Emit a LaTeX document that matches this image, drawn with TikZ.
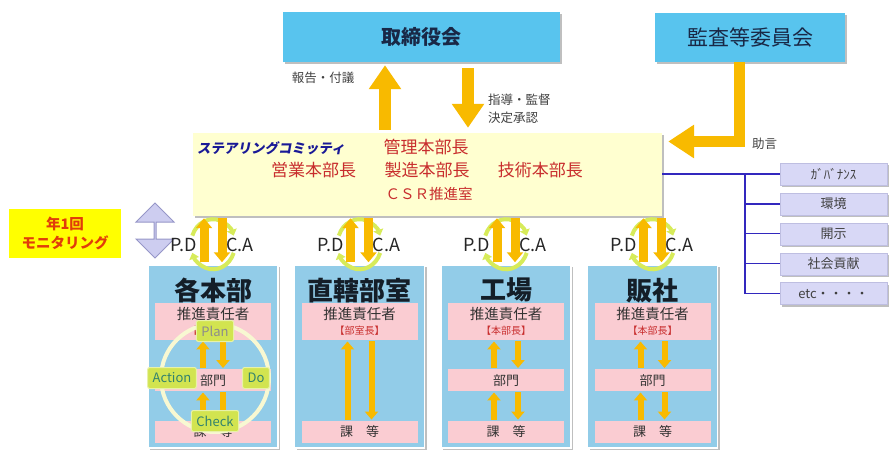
\documentclass[tikz,border=0pt]{standalone}
\usepackage{fontspec}
\setmainfont{Noto Sans CJK JP}
\newfontfamily\steerfont{Noto Sans CJK JP}[FakeSlant=0.18]
\usetikzlibrary{positioning,calc,arrows.meta,shadows,shapes.arrows}
\definecolor{boardblue}{RGB}{88,196,238}
\definecolor{navytext}{RGB}{25,40,70}
\definecolor{steeryellow}{RGB}{255,255,208}
\definecolor{steerblue}{RGB}{25,25,150}
\definecolor{memberred}{RGB}{200,45,45}
\definecolor{arroworange}{RGB}{248,186,0}
\definecolor{unitblue}{RGB}{146,204,232}
\definecolor{titleblack}{RGB}{20,30,40}
\definecolor{pinkbar}{RGB}{250,204,210}
\definecolor{lavbox}{RGB}{216,216,246}
\definecolor{lavborder}{RGB}{190,190,225}
\definecolor{lavarrow}{RGB}{205,205,240}
\definecolor{lavedge}{RGB}{150,150,200}
\definecolor{lineblue}{RGB}{50,40,190}
\definecolor{monitoryellow}{RGB}{255,255,0}
\definecolor{monitortext}{RGB}{225,60,10}
\definecolor{ringlime}{RGB}{215,235,90}
\definecolor{ringcream}{RGB}{248,248,210}
\definecolor{cyclegreen}{RGB}{210,228,80}
\definecolor{cycletext}{RGB}{50,130,110}
\newcommand*{\fsz}[1]{\fontsize{#1}{\fpeval{1.25*(#1)}}\selectfont}
\newcommand*{\bossline}[1]{{\color{memberred}\fsz{10}【#1】}}
\tikzset{%
  boxshadow/.style={drop shadow={shadow xshift=2pt, shadow yshift=-2pt, fill=black, opacity=.25}},
  topbox/.style={rectangle, inner sep=0pt, fill=boardblue, text=navytext, boxshadow},% board and audit committee
  steerbox/.style={rectangle, inner sep=0pt, fill=steeryellow, minimum width=469pt, minimum height=83pt, boxshadow},
  steertitle/.style={inner sep=0pt, text=steerblue, font=\steerfont\bfseries\fsz{13.5}},
  member/.style={inner sep=0pt, text=memberred, font=\fsz{17}},% members of the committee
  remark/.style={inner sep=0pt, text=black!75, font=\fsz{12.5}},% text beside the big arrows
  bigarrow/.style={draw=arroworange, line width=12pt, -{Triangle[length=24pt,width=31pt]}, shorten <=3pt, shorten >=3pt},
  unit/.style={rectangle, inner sep=0pt, fill=unitblue, draw=white, line width=1.5pt, minimum width=130pt, minimum height=183pt, boxshadow},
  unittitle/.style={inner sep=0pt, text=titleblack, font=\bfseries\fsz{26}},
  headbar/.style={rectangle, inner sep=0pt, fill=pinkbar, minimum width=116pt, minimum height=37pt, align=center, font=\fsz{14.5}, text=black!80},
  bar/.style={rectangle, inner sep=0pt, fill=pinkbar, minimum width=116pt, minimum height=22pt, font=\fsz{13}, text=black!80},
  smallarrow/.style={draw=arroworange, line width=6pt, -{Triangle[length=8pt,width=13pt]}, shorten <=1pt, shorten >=1pt},
  ringarc/.style={draw=ringlime, line width=4pt, -{Triangle[length=6pt,width=10pt]}},% pdca ring
  midarrow/.style={draw=arroworange, line width=9pt, -{Triangle[length=10pt,width=16pt]}, shorten <=2pt, shorten >=2pt},
  pdlabel/.style={inner sep=0pt, font=\fsz{18}, text=black!85},
  cyclering/.style={circle, draw=ringcream, line width=4pt, minimum size=108pt, inner sep=0pt},
  cyclebox/.style={rectangle, rounded corners=2pt, fill=cyclegreen, draw=cyclegreen!50!white, line width=1pt, minimum height=21pt, inner xsep=5pt, inner ysep=0pt, font=\fsz{13}, text=cycletext},
  sidebox/.style={rectangle, inner sep=0pt, fill=lavbox, draw=lavborder, minimum width=107pt, minimum height=22pt, font=\fsz{13}, text=black!75, boxshadow},
  orgline/.style={draw=lineblue, line width=1.2pt},
  monitor/.style={rectangle, inner sep=0pt, fill=monitoryellow, minimum width=112pt, minimum height=49pt, align=center, text=monitortext, font=\bfseries\fsz{14.5}},
  dblarrow/.style={shape=double arrow, rotate=90, inner sep=0pt, minimum height=55pt, minimum width=38pt, double arrow head extend=9pt, fill=lavarrow, draw=lavedge, line width=1pt}
}
\newcommand*{\pdcaring}[1]{%
  \draw[ringarc] ([xshift=-20.7pt,yshift=28.6pt]#1.north) arc[start angle=160, end angle=20, x radius=22pt, y radius=25pt];
  \draw[ringarc] ([xshift=20.7pt,yshift=11.4pt]#1.north) arc[start angle=-20, end angle=-160, x radius=22pt, y radius=25pt];
  \draw[midarrow] ($(#1.north)+(-9pt,0)$) -- ($(#1.north |- steer.south)+(-9pt,0)$);
  \draw[midarrow] ($(#1.north |- steer.south)+(9pt,0)$) -- ($(#1.north)+(9pt,0)$);
  \node[pdlabel] (#1pd) at ([xshift=-29pt,yshift=19pt]#1.north) {P.D};
  \node[pdlabel] (#1ca) at ([xshift=27pt,yshift=19pt]#1.north) {C.A};
}
\begin{document}
\begin{tikzpicture}[x=1pt,y=-1pt]
\useasboundingbox (0,0) rectangle (890,461);

% top of the organisation
\node[topbox, minimum width=277pt, minimum height=50pt, font=\bfseries\fsz{20}] (tori) at (421.5,37) {取締役会};
\node[topbox, minimum width=190pt, minimum height=49pt, font=\fsz{21}] (kansa) at (750,37.5) {監査等委員会};

% steering committee
\node[steerbox] (steer) at (427.5,174.5) {};
\node[steertitle] (steername) at (271,148) {ステアリングコミッティ};
\node[member] (mfg) at (427,170) {製造本部長};
\node[member, left=28pt of mfg] (sales) {営業本部長};
\node[member, right=28pt of mfg] (tech) {技術本部長};
\node[member] (admin) at (426,147) {管理本部長};
\node[member, font=\fsz{14.5}] (csr) at (429,194) {ＣＳＲ推進室};

% reports and advice
\coordinate (rep) at (385,0);
\coordinate (dir) at (468,0);
\coordinate (adv) at (739,0);
\draw[bigarrow] (rep |- steer.north) -- (rep |- tori.south);
\draw[bigarrow, shorten <=6pt, shorten >=5pt] (dir |- tori.south) -- (dir |- steer.north);
\draw[bigarrow, line width=11pt, -{Triangle[length=26pt,width=32pt]}, shorten <=0pt, shorten >=0pt]
  (adv |- kansa.south) |- ($(steer.east)+(6pt,33pt)$);
\node[remark] (report) at (323,78) {報告・付議};
\node[remark, anchor=west, align=left] (guide) at (488,109) {指導・監督\\[2pt]決定承認};
\node[remark, anchor=west] (advice) at (752,144) {助言};

% themes on the right
\node[sidebox] (gov) at (833.5,174) {ｶﾞﾊﾞﾅﾝｽ};
\node[sidebox, below=7.5pt of gov] (env) {環境};
\node[sidebox, below=7.5pt of env] (disc) {開示};
\node[sidebox, below=7.5pt of disc] (social) {社会貢献};
\node[sidebox, below=7.5pt of social] (misc) {etc・・・・};
\coordinate (bus) at (745,0);
\draw[orgline] (steer.east |- gov.west) -- (gov.west);
\draw[orgline] (bus |- gov.west) |- (misc.west);
\draw[orgline] (bus |- env.west) -- (env.west);
\draw[orgline] (bus |- disc.west) -- (disc.west);
\draw[orgline] (bus |- social.west) -- (social.west);

% yearly monitoring
\node[monitor] (yearly) at (65,233.5) {年1回\\モニタリング};
\node[dblarrow] (cycleband) at (155,230.5) {};

% units
\node[unit] (hq) at (213,356.5) {};
\node[unit, right=15pt of hq] (direct) {};
\node[unit, right=15pt of direct] (plant) {};
\node[unit, right=15pt of plant] (dealer) {};

\node[unittitle] (hqname) at ([yshift=-26pt]hq.north) {各本部};
\node[unittitle] (directname) at ([yshift=-26pt]direct.north) {直轄部室};
\node[unittitle] (plantname) at ([yshift=-26pt]plant.north) {工場};
\node[unittitle] (dealername) at ([yshift=-26pt]dealer.north) {販社};

\node[headbar] (hqhead) at ([yshift=-57.5pt]hq.north) {推進責任者\\[-3pt]\bossline{本部長}};
\node[headbar] (directhead) at ([yshift=-57.5pt]direct.north) {推進責任者\\[-3pt]\bossline{部室長}};
\node[headbar] (planthead) at ([yshift=-57.5pt]plant.north) {推進責任者\\[-3pt]\bossline{本部長}};
\node[headbar] (dealerhead) at ([yshift=-57.5pt]dealer.north) {推進責任者\\[-3pt]\bossline{本部長}};

\node[bar] (hqdept) at ([yshift=-116pt]hq.north) {部門};
\node[bar] (plantdept) at ([yshift=-116pt]plant.north) {部門};
\node[bar] (dealerdept) at ([yshift=-116pt]dealer.north) {部門};

\node[bar] (hqsect) at ([yshift=-167.5pt]hq.north) {課　等};
\node[bar] (directsect) at ([yshift=-167.5pt]direct.north) {課　等};
\node[bar] (plantsect) at ([yshift=-167.5pt]plant.north) {課　等};
\node[bar] (dealersect) at ([yshift=-167.5pt]dealer.north) {課　等};

% arrows inside the units
\draw[smallarrow] ($(hqdept.north)+(-10pt,0)$) -- ($(hqhead.south)+(-10pt,0)$);
\draw[smallarrow] ($(hqhead.south)+(10pt,0)$) -- ($(hqdept.north)+(10pt,0)$);
\draw[smallarrow] ($(hqsect.north)+(-10pt,0)$) -- ($(hqdept.south)+(-10pt,0)$);
\draw[smallarrow] ($(hqdept.south)+(10pt,0)$) -- ($(hqsect.north)+(10pt,0)$);

\draw[smallarrow] ($(directsect.north)+(-12pt,0)$) -- ($(directhead.south)+(-12pt,0)$);
\draw[smallarrow] ($(directhead.south)+(12pt,0)$) -- ($(directsect.north)+(12pt,0)$);

\draw[smallarrow] ($(plantdept.north)+(-12pt,0)$) -- ($(planthead.south)+(-12pt,0)$);
\draw[smallarrow] ($(planthead.south)+(12pt,0)$) -- ($(plantdept.north)+(12pt,0)$);
\draw[smallarrow] ($(plantsect.north)+(-12pt,0)$) -- ($(plantdept.south)+(-12pt,0)$);
\draw[smallarrow] ($(plantdept.south)+(12pt,0)$) -- ($(plantsect.north)+(12pt,0)$);

\draw[smallarrow] ($(dealerdept.north)+(-12pt,0)$) -- ($(dealerhead.south)+(-12pt,0)$);
\draw[smallarrow] ($(dealerhead.south)+(12pt,0)$) -- ($(dealerdept.north)+(12pt,0)$);
\draw[smallarrow] ($(dealersect.north)+(-12pt,0)$) -- ($(dealerdept.south)+(-12pt,0)$);
\draw[smallarrow] ($(dealerdept.south)+(12pt,0)$) -- ($(dealersect.north)+(12pt,0)$);

% pdca cycle of the head offices
\node[cyclering] (hqcycle) at (215,378) {};
\node[cyclebox, text=black!45] (plan) at ([yshift=-9pt]hqcycle.north) {Plan};
\node[cyclebox] (action) at ([xshift=13pt]hqcycle.west) {Action};
\node[cyclebox] (do) at ([xshift=-15pt]hqcycle.east) {Do};
\node[cyclebox] (check) at ([yshift=13pt]hqcycle.south) {Check};

% pdca between committee and units
\pdcaring{hq}
\pdcaring{direct}
\pdcaring{plant}
\pdcaring{dealer}

\end{tikzpicture}
\end{document}
